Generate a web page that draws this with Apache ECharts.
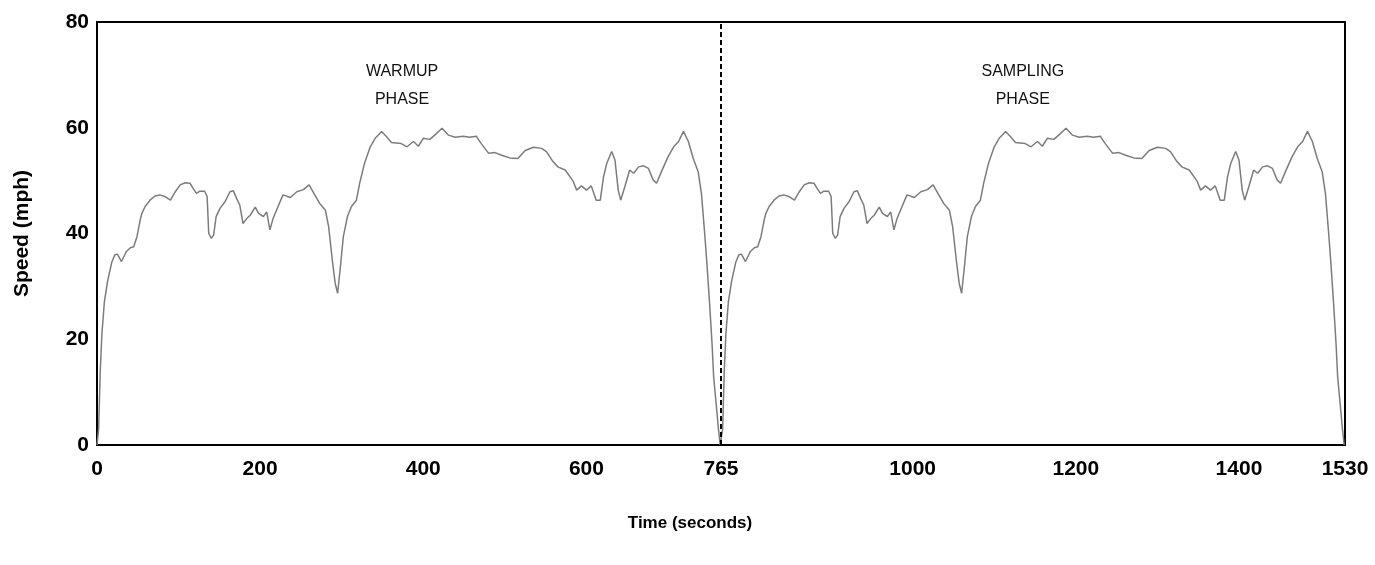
<!DOCTYPE html>
<html>
<head>
<meta charset="utf-8">
<script src="https://cdn.jsdelivr.net/npm/echarts@6/dist/echarts.min.js"></script>
<style>
  html, body { margin: 0; padding: 0; background: #fff; }
  #main { width: 1375px; height: 565px; }
</style>
</head>
<body>
<div id="main"></div>
<script>
// one driving cycle (seconds into the cycle, speed in mph)
var cycleTime = [0, 2, 4, 6, 9, 13, 18, 22, 25, 30, 36, 41, 45, 49, 53, 55, 59, 65, 71, 77,
  83, 90, 96, 102, 108, 114, 118, 122, 126, 132, 135, 137, 140, 143, 146, 151, 157, 163, 167, 171,
  175, 179, 184, 188, 194, 198, 204, 208, 212, 216, 222, 228, 237, 245, 253, 260, 267, 273, 280, 284,
  288, 292, 295, 298, 302, 307, 312, 318, 322, 328, 335, 341, 349, 355, 361, 373, 380, 388, 394, 400,
  408, 414, 423, 431, 439, 449, 457, 465, 471, 480, 488, 496, 506, 516, 525, 535, 545, 551, 559, 565,
  574, 580, 584, 588, 594, 600, 606, 612, 617, 621, 625, 631, 635, 639, 642, 647, 653, 658, 664, 670,
  676, 682, 686, 692, 700, 707, 713, 719, 725, 731, 737, 741, 745, 748, 751, 754, 756, 759, 762, 764];
var cycleSpeed = [0, 3, 14, 21, 27, 31, 34.5, 36, 36.1, 34.7, 36.6, 37.3, 37.5, 39.4, 42.6, 43.8, 45.1, 46.3, 47.1, 47.3,
  47, 46.3, 47.9, 49.2, 49.6, 49.5, 48.5, 47.6, 48, 48, 47, 40, 39.1, 39.7, 43.2, 44.8, 46, 47.9, 48.1, 46.7,
  45.4, 41.9, 42.9, 43.5, 45, 43.8, 43.2, 44.1, 40.7, 42.9, 45.1, 47.3, 46.8, 47.9, 48.3, 49.2, 47.3, 45.7, 44.4, 41.3,
  35.6, 30.6, 28.7, 33.1, 39.4, 43.2, 45.1, 46.3, 49.5, 53.3, 56.4, 58, 59.3, 58.3, 57.2, 57, 56.4, 57.4, 56.5, 58,
  57.8, 58.6, 59.9, 58.6, 58.2, 58.4, 58.2, 58.4, 57, 55.2, 55.3, 54.8, 54.3, 54.2, 55.7, 56.3, 56.1, 55.5, 53.6, 52.6,
  52, 50.7, 49.8, 48.2, 49, 48.2, 49, 46.3, 46.3, 50.7, 53.3, 55.5, 53.9, 48.2, 46.3, 48.8, 52, 51.4, 52.6, 52.8,
  52.3, 50.1, 49.5, 51.7, 54.5, 56.4, 57.4, 59.3, 57.4, 54.2, 51.7, 47.6, 40, 33.7, 26.8, 19.2, 12.9, 7.9, 2.8, 0];

// the same cycle is driven twice: warmup then sampling
var phaseStart = [0, 765];
var phaseNames = ['WARMUP\nPHASE', 'SAMPLING\nPHASE'];
var phaseLabelAt = [[374, 68], [1135, 68]];
var xTickValues = [0, 200, 400, 600, 765, 1000, 1200, 1400, 1530];

var speedData = [];
phaseStart.forEach(function (start) {
  cycleTime.forEach(function (t, i) {
    speedData.push([start + t, cycleSpeed[i]]);
  });
});

var font = 'Liberation Sans, Arial, Helvetica, sans-serif';

var myChart = echarts.init(document.getElementById('main'));
var option = {
  animation: false,
  grid: {
    left: 97,
    right: 30,
    top: 22,
    bottom: 120,
    show: true,
    borderColor: '#000',
    borderWidth: 2
  },
  xAxis: {
    type: 'value',
    min: 0,
    max: 1530,
    name: 'Time (seconds)',
    nameLocation: 'middle',
    nameGap: 70,
    nameTextStyle: {
      fontFamily: font,
      fontWeight: 'bold',
      fontSize: 17,
      color: '#000',
      padding: [0, 62, 0, 0]
    },
    axisLine: { lineStyle: { color: '#000', width: 2 } },
    axisTick: { show: false },
    splitLine: { show: false },
    axisLabel: {
      customValues: xTickValues,
      formatter: function (v) { return String(v); },
      margin: 14,
      fontFamily: font,
      fontWeight: 'bold',
      fontSize: 21,
      color: '#000'
    }
  },
  yAxis: {
    type: 'value',
    min: 0,
    max: 80,
    interval: 20,
    name: 'Speed (mph)',
    nameLocation: 'middle',
    nameGap: 64,
    nameTextStyle: {
      fontFamily: font,
      fontWeight: 'bold',
      fontSize: 21,
      color: '#000'
    },
    axisLine: { show: true, lineStyle: { color: '#000', width: 2 } },
    axisTick: { show: false },
    splitLine: { show: false },
    axisLabel: {
      margin: 8,
      fontFamily: font,
      fontWeight: 'bold',
      fontSize: 21,
      color: '#000'
    }
  },
  series: [{
    name: 'Speed',
    type: 'line',
    data: speedData,
    showSymbol: false,
    symbol: 'none',
    lineStyle: { color: '#7c7c7c', width: 1.5 },
    markLine: {
      silent: true,
      symbol: 'none',
      label: { show: false },
      lineStyle: { color: '#000', width: 2, type: [5, 3] },
      data: [{ xAxis: 765 }]
    },
    markPoint: {
      silent: true,
      symbol: 'circle',
      symbolSize: 1,
      itemStyle: { color: 'rgba(0,0,0,0)' },
      label: {
        show: true,
        position: 'inside',
        formatter: '{b}',
        fontFamily: font,
        fontSize: 16,
        lineHeight: 28,
        color: '#111'
      },
      data: phaseNames.map(function (n, i) {
        return { name: n, coord: phaseLabelAt[i] };
      })
    }
  }]
};
myChart.setOption(option);
</script>
</body>
</html>
